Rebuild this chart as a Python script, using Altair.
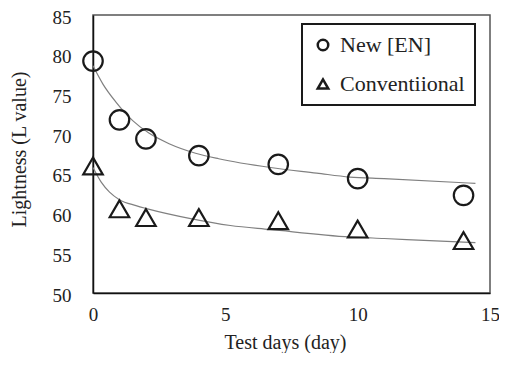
import altair as alt
import pandas as pd

days = [0, 1, 2, 4, 7, 10, 14]
new_vals = [79.2, 71.8, 69.4, 67.3, 66.2, 64.4, 62.3]
conv_vals = [66.0, 60.6, 59.5, 59.5, 59.1, 58.05, 56.6]

# Fitted trend curves
new_fit_x = [0, 0.375, 0.875, 1.5, 2.125, 2.875, 3.875, 4.75, 6.7, 8.45, 9.7, 11.0, 14.45]
new_fit_y = [78.6, 76.3, 74.0, 71.7, 70.1, 68.8, 67.6, 66.9, 65.8, 65.1, 64.6, 64.4, 63.8]
conv_fit_x = [0, 0.31, 0.625, 1.0, 1.625, 2.06, 3.69, 5.19, 6.69, 9.7, 11.0, 13.8, 14.45]
conv_fit_y = [65.8, 63.96, 62.7, 61.75, 61.0, 60.6, 59.37, 58.5, 58.0, 57.06, 56.86, 56.43, 56.35]

series_names = ["New [EN]", "Conventiional"]
x_ticks = [0, 5, 10, 15]
y_ticks = [50, 55, 60, 65, 70, 75, 80, 85]

pts = pd.DataFrame({
    "day": days + days,
    "L": new_vals + conv_vals,
    "series": [series_names[0]] * len(days) + [series_names[1]] * len(days),
})
fits = pd.DataFrame({
    "day": new_fit_x + conv_fit_x,
    "L": new_fit_y + conv_fit_y,
    "series": [series_names[0]] * len(new_fit_x) + [series_names[1]] * len(conv_fit_x),
})

FONT = "Liberation Serif"

xscale = alt.Scale(domain=[0, 15], nice=False, zero=False)
yscale = alt.Scale(domain=[50, 85], nice=False, zero=False)

xaxis = alt.Axis(values=x_ticks, title="Test days (day)", labelPadding=12,
                 titleX=192, titleY=55, titleBaseline="alphabetic",
                 labelFlush=False, labelOverlap=False, tickCount=4)
yaxis = alt.Axis(values=y_ticks, title="Lightness (L value)", labelPadding=22,
                 titleX=-68, titleY=134, titleBaseline="alphabetic", titleAngle=270,
                 labelFlush=False, labelOverlap=False, tickCount=8, labelOffset=2)

lines = alt.Chart(fits).mark_line(color="#808080", strokeWidth=1.2, interpolate="monotone").encode(
    x=alt.X("day:Q", scale=xscale, axis=xaxis),
    y=alt.Y("L:Q", scale=yscale, axis=yaxis),
    detail="series:N",
)

points = alt.Chart(pts).mark_point(filled=False, color="#1a1a1a", strokeWidth=2.2, size=380, opacity=1).encode(
    x=alt.X("day:Q", scale=xscale, axis=xaxis),
    y=alt.Y("L:Q", scale=yscale, axis=yaxis),
    shape=alt.Shape("series:N",
                    scale=alt.Scale(domain=series_names, range=["circle", "triangle-up"]),
                    legend=alt.Legend(title=None, orient="none", legendX=209, legendY=9,
                                      symbolSize=110, symbolStrokeWidth=2.5,
                                      symbolStrokeColor="#1a1a1a", symbolFillColor="transparent",
                                      labelFont=FONT, labelFontSize=22, labelColor="#222",
                                      labelOffset=6, rowPadding=17, padding=10,
                                      strokeColor="#1a1a1a")),
)

chart = alt.layer(lines, points).properties(
    width=397, height=278,
    autosize=alt.AutoSizeParams(type="none"),
    padding={"left": 85, "top": 7, "right": 9, "bottom": 60},
).configure_view(
    stroke="#555", strokeWidth=1.5,
).configure_axis(
    grid=False, ticks=False, tickSize=0,
    domainColor="#111", domainWidth=1.5,
    labelFont=FONT, labelFontSize=19, labelColor="#222",
    titleFont=FONT, titleFontSize=20, titleColor="#222", titleFontWeight="normal",
).configure_legend(
    strokeWidth=2,
)

chart.save("out.html", embed_options={"renderer": "svg", "actions": False})
